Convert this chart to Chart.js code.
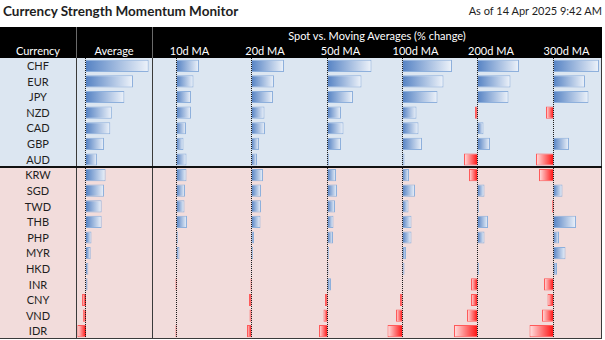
<!DOCTYPE html>
<html>
<head>
<meta charset="utf-8">
<script src="https://cdn.jsdelivr.net/npm/chart.js@4.4.0/dist/chart.umd.min.js"></script>
<style>
  body { margin: 0; width: 605px; height: 340px; background: #fff; position: relative; overflow: hidden; font-family: Lato, "Open Sans", sans-serif; color: #1e1e1e; }
  .abs { position: absolute; }
  #title { left: 3px; top: 3px; font-size: 13.5px; font-weight: bold; }
  #asof { right: 3px; top: 4px; font-size: 11px; }
  #header { left: 0; top: 27px; width: 602px; height: 31px; background: #000; color: #fff; font-size: 11px; }
  #header .h { position: absolute; text-align: center; }
  #header .sep { position: absolute; top: 0; width: 1px; height: 31px; background: #6a6a6a; }
  #body { left: 0; top: 58px; width: 602px; height: 281px; overflow: hidden; }
  .grp { position: absolute; left: 0; width: 602px; }
  .row { position: absolute; left: 0; width: 76px; text-align: center; font-size: 11px; }
  .vline { position: absolute; top: 0; width: 1px; height: 281px; background: #3a3a3a; }
  canvas { position: absolute; top: 0; }
</style>
</head>
<body>
<div id="title" class="abs">Currency Strength Momentum Monitor</div>
<div id="asof" class="abs">As of 14 Apr 2025 9:42 AM</div>
<div id="header" class="abs"></div>
<div id="body" class="abs"></div>

<script>
const currencies = ['CHF', 'EUR', 'JPY', 'NZD', 'CAD', 'GBP', 'AUD', 'KRW', 'SGD', 'TWD', 'THB', 'PHP', 'MYR', 'HKD', 'INR', 'CNY', 'VND', 'IDR'];
const majorsCount = 7;
const columnLabels = ['Average', '10d MA', '20d MA', '50d MA', '100d MA', '200d MA', '300d MA'];

// % change of spot vs each moving average
const avgChange = [8.0, 6.0, 4.9, 3.3, 3.1, 2.3, 1.4, 2.5, 2.3, 2.0, 2.0, 0.7, 0.6, 0.3, 0.2, -0.5, -0.4, -1.1];
const ma10 = [4.5, 3.4, 2.9, 2.9, 1.9, 1.4, 2.0, 2.0, 1.7, 1.6, 2.1, 0.3, 0.6, 0.1, -0.2, 0.0, 0.0, -0.2];
const ma20 = [6.5, 4.5, 4.3, 2.6, 2.7, 1.5, 1.1, 2.3, 1.9, 1.9, 1.8, 0.5, 0.3, 0.1, -0.2, -0.5, -0.4, -0.9];
const ma50 = [8.8, 6.8, 5.1, 2.7, 3.2, 2.7, 0.3, 1.7, 1.9, 1.5, 1.2, 1.1, 0.3, 0.2, 0.7, -0.5, -0.8, -1.7];
const ma100 = [9.9, 8.2, 7.0, 2.8, 3.2, 3.9, 0.4, 1.3, 2.5, 1.2, 1.8, 1.8, 0.7, 0.4, 0.0, -0.5, -1.3, -3.0];
const ma200 = [8.3, 6.6, 6.2, -0.5, 1.2, 2.5, -2.7, -1.7, 1.4, 0.3, 2.1, 1.4, 0.0, 0.3, -1.3, -1.3, -2.1, -4.7];
const ma300 = [9.1, 6.3, 7.0, -1.5, 0.0, 3.1, -3.5, -2.9, 1.8, -0.3, 4.5, 1.1, 2.4, 0.7, -1.9, -1.2, -2.3, -4.8];

const ROW_H = 281 / currencies.length;

// table chrome
const header = document.getElementById('header');
const body = document.getElementById('body');

function addDiv(parent, cls, css, text) {
    const d = document.createElement('div');
    d.className = cls;
    Object.assign(d.style, css);
    if (text) d.textContent = text;
    parent.appendChild(d);
    return d;
}

const columns = [
    { label: columnLabels[0], data: avgChange, left: 77, width: 74, min: -1.15, max: 8.3 },
    { label: columnLabels[1], data: ma10, left: 152, width: 75, min: -4.9, max: 10.1 },
    { label: columnLabels[2], data: ma20, left: 227, width: 75, min: -4.9, max: 10.1 },
    { label: columnLabels[3], data: ma50, left: 303, width: 75, min: -4.9, max: 10.1 },
    { label: columnLabels[4], data: ma100, left: 378, width: 75, min: -4.9, max: 10.1 },
    { label: columnLabels[5], data: ma200, left: 453, width: 75, min: -4.9, max: 10.1 },
    { label: columnLabels[6], data: ma300, left: 529, width: 75, min: -4.9, max: 10.1 }
];

addDiv(header, 'h', { left: '152px', width: '450px', top: '2px' }, 'Spot vs. Moving Averages (% change)');
addDiv(header, 'h', { left: '0px', width: '76px', top: '17px' }, 'Currency');
addDiv(header, 'sep', { left: '76px' });
addDiv(header, 'sep', { left: '152px' });
const headerCols = [[76, 76], [152, 75], [227, 76], [303, 75], [378, 75], [453, 76], [529, 75]];
columns.forEach(function(col, i) {
    addDiv(header, 'h', { left: headerCols[i][0] + 'px', width: headerCols[i][1] + 'px', top: '17px' }, col.label);
});

addDiv(body, 'grp', { top: '0px', height: (ROW_H * majorsCount) + 'px', background: '#dce6f1' });
addDiv(body, 'grp', { top: (ROW_H * majorsCount) + 'px', height: (281 - ROW_H * majorsCount) + 'px', background: '#f2dcdb' });

currencies.forEach(function(c, i) {
    addDiv(body, 'row', { top: (i * ROW_H) + 'px', height: ROW_H + 'px', lineHeight: ROW_H + 'px' }, c);
});

// bar fills, Excel-style gradient data bars
function barFill(ctx) {
    if (ctx.type !== 'data') return '#638ec6';
    const chart = ctx.chart;
    const xs = chart.scales.x;
    const v = ctx.raw;
    if (!xs) return v >= 0 ? '#638ec6' : '#ff3030';
    const x0 = xs.getPixelForValue(0);
    const x1 = xs.getPixelForValue(v);
    if (!isFinite(x0) || !isFinite(x1)) return v >= 0 ? '#638ec6' : '#ff3030';
    if (Math.abs(x1 - x0) < 0.5) return 'rgba(0,0,0,0)';
    const g = chart.ctx.createLinearGradient(x0, 0, x1, 0);
    if (v >= 0) {
        g.addColorStop(0, '#5683c4');
        g.addColorStop(1, '#eef3fa');
    } else {
        g.addColorStop(0, '#ff1010');
        g.addColorStop(1, '#ffe4e4');
    }
    return g;
}

function barBorder(ctx) {
    if (ctx.type !== 'data') return '#8eb0dc';
    return ctx.raw >= 0 ? '#8eb0dc' : '#ff5a5a';
}

const zeroLine = {
    id: 'zeroLine',
    afterDatasetsDraw(chart) {
        const { ctx, chartArea, scales } = chart;
        const x = Math.round(scales.x.getPixelForValue(0)) - 0.5;
        ctx.save();
        ctx.strokeStyle = '#1a1a1a';
        ctx.lineWidth = 1;
        ctx.setLineDash([1, 1]);
        ctx.beginPath();
        ctx.moveTo(x, chartArea.top);
        ctx.lineTo(x, chartArea.bottom);
        ctx.stroke();
        ctx.restore();
    }
};

columns.forEach(function(col) {
    const canvas = document.createElement('canvas');
    canvas.width = col.width;
    canvas.height = 281;
    canvas.style.left = col.left + 'px';
    canvas.style.width = col.width + 'px';
    canvas.style.height = '281px';
    body.appendChild(canvas);

    new Chart(canvas, {
        type: 'bar',
        data: {
            labels: currencies,
            datasets: [{
                data: col.data,
                backgroundColor: barFill,
                borderColor: barBorder,
                borderWidth: function(ctx) { return ctx.raw === 0 ? 0 : 1; },
                borderSkipped: 'start',
                barPercentage: 0.78,
                categoryPercentage: 1
            }]
        },
        options: {
            indexAxis: 'y',
            responsive: false,
            animation: false,
            devicePixelRatio: 1,
            layout: { padding: 0 },
            plugins: { legend: { display: false }, tooltip: { enabled: false } },
            scales: {
                x: { display: false, min: col.min, max: col.max },
                y: { display: false }
            }
        },
        plugins: [zeroLine]
    });
});

// grid lines over the charts
addDiv(body, 'vline', { left: '76px' });
addDiv(body, 'vline', { left: '152px' });
addDiv(body, 'vline', { left: '601px' });
addDiv(body, 'grp', { top: (ROW_H * majorsCount - 1) + 'px', height: '2px', background: '#111' });
addDiv(body, 'grp', { top: '280px', height: '1px', background: '#3a3a3a' });
</script>
</body>
</html>
